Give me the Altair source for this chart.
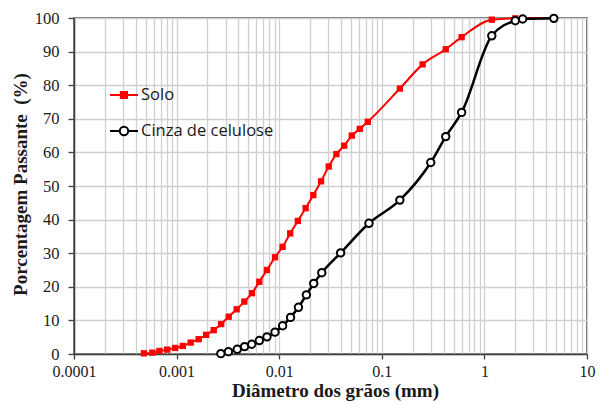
import altair as alt
import pandas as pd

# ---- data ----
solo_d = [0.00048, 0.00058, 0.00068, 0.00081, 0.00097, 0.00115, 0.00137, 0.00164,
          0.00194, 0.0023, 0.00272, 0.00322, 0.00385, 0.00457, 0.00543, 0.0064,
          0.0076, 0.0091, 0.0108, 0.0128, 0.0152, 0.0181, 0.0215, 0.0256, 0.0304,
          0.0361, 0.043, 0.051, 0.061, 0.073, 0.15, 0.25, 0.42, 0.6, 1.18, 2.0, 4.75]
solo_p = [0.2, 0.4, 0.9, 1.3, 1.8, 2.4, 3.4, 4.4, 5.7, 7.1, 8.9, 11.1, 13.3, 15.6,
          18.1, 21.5, 25.0, 28.8, 31.9, 35.9, 39.6, 43.4, 47.3, 51.4, 55.8, 59.5,
          62.0, 65.0, 67.0, 69.1, 79.0, 86.2, 90.7, 94.3, 99.5, 99.9, 100.0]

cinza_d = [0.0027, 0.0032, 0.0039, 0.0046, 0.0054, 0.0064, 0.0076, 0.0091, 0.0108,
           0.0129, 0.0154, 0.0184, 0.0217, 0.026, 0.0397, 0.075, 0.15, 0.3, 0.42,
           0.6, 1.18, 2.0, 2.36, 4.75]
cinza_p = [0.1, 0.7, 1.4, 2.2, 2.9, 4.0, 5.1, 6.5, 8.4, 10.9, 13.9, 17.6, 21.0, 24.2,
           30.1, 38.9, 45.8, 57.0, 64.7, 71.9, 94.7, 99.2, 99.7, 99.9]

series_names = ["Solo", "Cinza de celulose"]

x_major = [0.0001, 0.001, 0.01, 0.1, 1, 10]
x_grid = [0.0001, 0.0002, 0.0003, 0.0004, 0.0005, 0.0006, 0.0007, 0.0008, 0.0009,
          0.001, 0.002, 0.003, 0.004, 0.005, 0.006, 0.007, 0.008, 0.009,
          0.01, 0.02, 0.03, 0.04, 0.05, 0.06, 0.07, 0.08, 0.09,
          0.1, 0.2, 0.3, 0.4, 0.5, 0.6, 0.7, 0.8, 0.9,
          1, 2, 3, 4, 5, 6, 7, 8, 9, 10]
y_ticks = [0, 10, 20, 30, 40, 50, 60, 70, 80, 90, 100]

df = pd.concat([
    pd.DataFrame({"d": solo_d, "p": solo_p, "series": series_names[0]}),
    pd.DataFrame({"d": cinza_d, "p": cinza_p, "series": series_names[1]}),
], ignore_index=True)

major_js = "[" + ",".join(repr(v) for v in x_major) + "]"
is_major = f"indexof({major_js}, datum.value) >= 0"

x_enc = alt.X(
    "d:Q",
    scale=alt.Scale(type="log", domain=[0.0001, 10], nice=False),
    axis=alt.Axis(
        values=x_grid,
        labelExpr=f"{is_major} ? format(datum.value, '~g') : ''",
        labelOverlap=False,
        labelFlush=False,
        grid=True,
        gridColor="#d0d0d0",
        gridWidth=1.3,
        tickSize=5,
        tickOpacity={"condition": {"test": is_major, "value": 1}, "value": 0},
        labelPadding=4,
        labelFontSize=16,
        title="Diâmetro dos grãos (mm)",
        titleX=261,
        titleY=42,
        titleBaseline="alphabetic",
        titleAlign="center",
    ),
)

y_enc = alt.Y(
    "p:Q",
    scale=alt.Scale(domain=[0, 100], nice=False),
    axis=alt.Axis(
        values=y_ticks,
        grid=True,
        gridColor="#d0d0d0",
        gridWidth=1.3,
        tickSize=6,
        labelPadding=9,
        title="Porcentagem Passante \u00a0(%)",
        titleX=-54,
        titleY=166,
        titleBaseline="middle",
        titleAlign="center",
    ),
)

base = alt.Chart(df)

solo_path = "M-1,0H1M-0.22,-0.22H0.22V0.22H-0.22Z"
cinza_path = "M-1,0H-0.3M0.3,0H1M0.3,0A0.3,0.3,0,1,1,-0.3,0A0.3,0.3,0,1,1,0.3,0Z"

legend_props = dict(
    orient="none", legendX=35, legendY=62, title=None,
    symbolSize=784, symbolStrokeWidth=2, labelFont="Open Sans",
    labelFontSize=16.5, labelColor="#1a1a1a", labelOffset=2, rowPadding=12, padding=0,
)

legend_layer = base.transform_filter("false").mark_point(opacity=1, strokeWidth=2).encode(
    x=x_enc, y=y_enc,
    shape=alt.Shape("series:N", scale=alt.Scale(domain=series_names, range=[solo_path, cinza_path]),
                    legend=alt.Legend(**legend_props)),
    stroke=alt.Stroke("series:N", scale=alt.Scale(domain=series_names, range=["#ff0000", "#000000"]),
                      legend=alt.Legend(**legend_props)),
    fill=alt.Fill("series:N", scale=alt.Scale(domain=series_names, range=["#ff0000", "#ffffff"]),
                  legend=alt.Legend(**legend_props)),
)

solo = base.transform_filter(alt.datum.series == "Solo")
cinza = base.transform_filter(alt.datum.series == "Cinza de celulose")

solo_line = solo.mark_line(color="#ff0000", strokeWidth=2, interpolate="monotone").encode(x=x_enc, y=y_enc)
solo_pts = solo.mark_point(shape="square", filled=True, color="#ff0000", size=40, opacity=1).encode(x=x_enc, y=y_enc)
cinza_line = cinza.mark_line(color="#000000", strokeWidth=2.5, interpolate="monotone").encode(x=x_enc, y=y_enc)
cinza_pts = cinza.mark_point(shape="circle", fill="#ffffff", stroke="#000000", strokeWidth=2,
                             size=55, opacity=1, filled=False).encode(x=x_enc, y=y_enc)

chart = alt.layer(legend_layer, solo_line, solo_pts, cinza_line, cinza_pts).properties(
    width=513, height=336,
    autosize=alt.AutoSizeParams(type="none"),
    padding={"left": 74, "top": 18, "right": 15, "bottom": 51},
    background="white",
).configure_view(
    stroke="#404040", strokeWidth=1.5,
).configure_axis(
    domainColor="#404040", domainWidth=1.5, tickColor="#404040", tickWidth=1.3,
    labelFont="Liberation Serif", labelFontSize=16.5, labelColor="#1a1a1a",
    titleFont="Liberation Serif", titleFontSize=19, titleFontWeight="bold", titleColor="#1a1a1a",
)

chart.save("out.html", embed_options={"renderer": "svg", "actions": False})
